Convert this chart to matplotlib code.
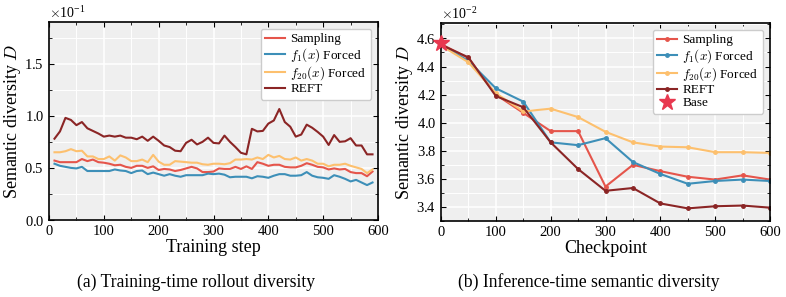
import numpy as np
import matplotlib
matplotlib.use("Agg")
import matplotlib.pyplot as plt
from matplotlib.ticker import MultipleLocator

plt.rcParams['font.family'] = ['Liberation Serif', 'DejaVu Serif']
plt.rcParams['mathtext.fontset'] = 'cm'

# (a) training-time rollout diversity, values in units of 1e-1
steps = np.arange(10, 600, 10)
train_sampling = [0.57, 0.555, 0.555, 0.555, 0.555, 0.585, 0.565, 0.58, 0.555, 0.55,
                  0.54, 0.525, 0.53, 0.51, 0.50, 0.52, 0.52, 0.50, 0.515, 0.48,
                  0.49, 0.485, 0.47, 0.48, 0.495, 0.51, 0.495, 0.46, 0.46, 0.465,
                  0.495, 0.49, 0.49, 0.51, 0.49, 0.515, 0.49, 0.555, 0.54, 0.52,
                  0.53, 0.53, 0.51, 0.505, 0.505, 0.52, 0.545, 0.53, 0.51, 0.505,
                  0.485, 0.495, 0.485, 0.49, 0.46, 0.45, 0.45, 0.42, 0.465]
train_f1 = [0.54, 0.52, 0.51, 0.50, 0.495, 0.51, 0.47, 0.47, 0.47, 0.47,
            0.47, 0.485, 0.475, 0.47, 0.45, 0.47, 0.475, 0.44, 0.455, 0.44,
            0.425, 0.44, 0.425, 0.415, 0.43, 0.43, 0.43, 0.43, 0.445, 0.44,
            0.445, 0.435, 0.41, 0.415, 0.415, 0.415, 0.40, 0.42, 0.415, 0.405,
            0.425, 0.44, 0.44, 0.425, 0.425, 0.43, 0.46, 0.425, 0.41, 0.405,
            0.395, 0.43, 0.415, 0.395, 0.37, 0.385, 0.36, 0.335, 0.36]
train_f20 = [0.65, 0.65, 0.66, 0.68, 0.66, 0.665, 0.61, 0.61, 0.585, 0.585,
             0.61, 0.57, 0.62, 0.60, 0.565, 0.565, 0.58, 0.555, 0.625, 0.56,
             0.53, 0.53, 0.565, 0.56, 0.555, 0.55, 0.55, 0.535, 0.53, 0.54,
             0.54, 0.535, 0.545, 0.58, 0.58, 0.585, 0.58, 0.60, 0.585, 0.625,
             0.60, 0.615, 0.585, 0.58, 0.60, 0.57, 0.585, 0.57, 0.54, 0.54,
             0.515, 0.53, 0.53, 0.54, 0.52, 0.505, 0.49, 0.45, 0.485]
train_reft = [0.78, 0.85, 0.98, 0.96, 0.91, 0.94, 0.88, 0.855, 0.83, 0.80,
              0.81, 0.80, 0.81, 0.79, 0.79, 0.775, 0.80, 0.76, 0.80, 0.76,
              0.715, 0.70, 0.665, 0.66, 0.74, 0.77, 0.725, 0.75, 0.79, 0.74,
              0.735, 0.81, 0.75, 0.70, 0.645, 0.63, 0.875, 0.85, 0.855, 0.925,
              0.955, 1.065, 0.94, 0.895, 0.80, 0.82, 0.915, 0.885, 0.845, 0.80,
              0.72, 0.815, 0.75, 0.755, 0.785, 0.715, 0.715, 0.63, 0.63]

# (b) inference-time diversity, values in units of 1e-2
checkpoints = np.arange(0, 601, 50)
inf_sampling = [4.56, 4.46, 4.20, 4.07, 3.94, 3.94, 3.545, 3.70, 3.655, 3.615, 3.595, 3.625, 3.595]
inf_f1 = [4.555, 4.44, 4.245, 4.15, 3.86, 3.84, 3.89, 3.72, 3.635, 3.565, 3.585, 3.595, 3.585]
inf_f20 = [4.55, 4.43, 4.21, 4.08, 4.10, 4.04, 3.935, 3.86, 3.83, 3.825, 3.79, 3.79, 3.785]
inf_reft = [4.555, 4.465, 4.19, 4.11, 3.86, 3.67, 3.515, 3.535, 3.425, 3.39, 3.405, 3.41, 3.395]
base_point = (0, 4.565)

labels = ['Sampling', r'$f_1(x)$ Forced', r'$f_{20}(x)$ Forced', 'REFT']
colors = ['#e5554b', '#3d8fb8', '#fdc06e', '#8b2525']


def style_axes(ax, ymajor, yminor):
    ax.set_facecolor('#efefef')
    ax.set_axisbelow(True)
    ax.xaxis.set_major_locator(MultipleLocator(100))
    ax.xaxis.set_minor_locator(MultipleLocator(50))
    ax.yaxis.set_major_locator(MultipleLocator(ymajor))
    ax.yaxis.set_minor_locator(MultipleLocator(yminor))
    ax.grid(which='major', color='white', linewidth=1.1)
    ax.grid(which='minor', color='white', linewidth=0.7)
    ax.tick_params(which='both', direction='in', top=True, right=True, labelsize=10.5)
    ax.tick_params(which='major', length=3.5)
    ax.tick_params(which='minor', length=2)
    for s in ax.spines.values():
        s.set_linewidth(1.2)
    ax.ticklabel_format(axis='y', style='sci', scilimits=(0, 0), useMathText=True)
    ax.yaxis.get_offset_text().set_fontsize(10)
    ax.set_xlim(0, 600)


def add_legend(ax):
    ax.legend(loc='upper right', fontsize=9.5, framealpha=1, edgecolor='#cccccc',
              handlelength=1.5, handletextpad=0.4, borderpad=0.35, labelspacing=0.05,
              borderaxespad=0.5)


fig = plt.figure(figsize=(7.86, 2.97), dpi=100)
ax1 = fig.add_axes([49 / 786, 1 - 220 / 297, 329 / 786, 198 / 297])
ax2 = fig.add_axes([441 / 786, 1 - 221 / 297, 329 / 786, 198 / 297])

# left panel
for ys, lab, c in zip([train_sampling, train_f1, train_f20, train_reft], labels, colors):
    ax1.plot(steps, np.array(ys) * 1e-1, color=c, lw=1.5, label=lab)
style_axes(ax1, 0.05, 0.025)
ax1.set_ylim(0, 0.19)
ax1.set_xlabel('Training step', fontsize=13, labelpad=1)
ax1.set_ylabel(r'Semantic diversity $D$', fontsize=13, labelpad=1)
add_legend(ax1)

# right panel
for ys, lab, c in zip([inf_sampling, inf_f1, inf_f20, inf_reft], labels, colors):
    ax2.plot(checkpoints, np.array(ys) * 1e-2, color=c, lw=1.5, marker='o', ms=2.5, label=lab)
ax2.plot(base_point[0], base_point[1] * 1e-2, marker='*', ms=12, color='#e8384f',
         ls='none', label='Base', clip_on=False, zorder=5)
style_axes(ax2, 0.002, 0.001)
ax2.set_ylim(0.0330, 0.0471)
ax2.set_xlabel('Checkpoint', fontsize=13, labelpad=1)
ax2.set_ylabel(r'Semantic diversity $D$', fontsize=13, labelpad=1)
add_legend(ax2)

fig.text(196 / 786, 1 - 282 / 297, '(a) Training-time rollout diversity', ha='center', va='center', fontsize=12.7)
fig.text(589 / 786, 1 - 282 / 297, '(b) Inference-time semantic diversity', ha='center', va='center', fontsize=12.7)

fig.savefig('out.png', dpi=100)
